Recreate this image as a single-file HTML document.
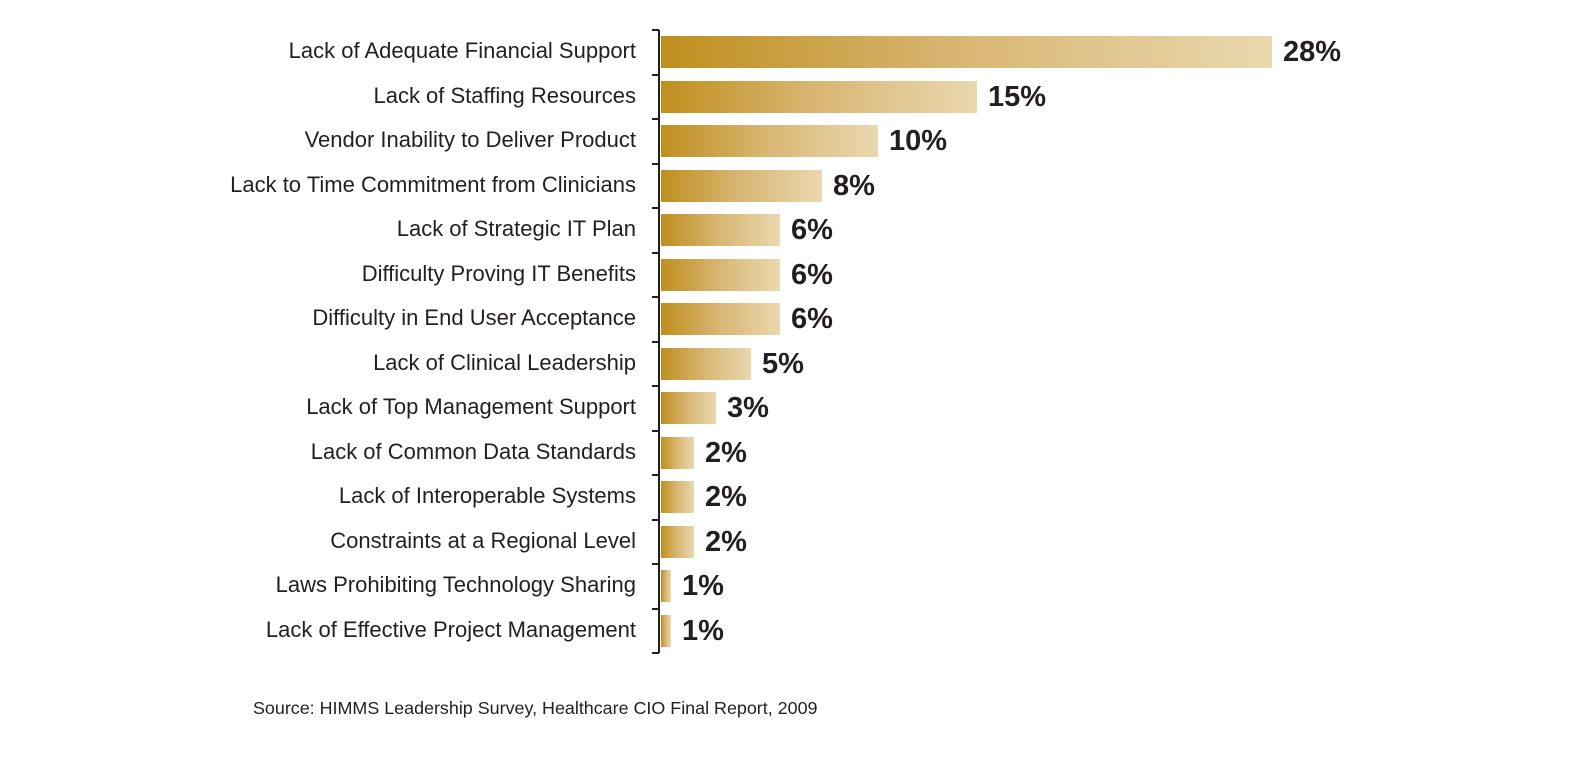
<!DOCTYPE html>
<html><head><meta charset="utf-8"><style>
body{margin:0;background:#fff;width:1592px;height:772px;overflow:hidden;font-family:"Liberation Sans",Arial,sans-serif;position:relative}
.l{position:absolute;right:956px;font-size:22px;color:#231f20;white-space:nowrap;line-height:24px}
.b{position:absolute;left:661px;height:32px;background:linear-gradient(to right,#bf8f1e,#d9b775 50%,#ead8ae)}
.v{position:absolute;font-size:29px;font-weight:bold;color:#231f20;line-height:30px}
.ax{position:absolute;left:658px;top:30px;width:2px;height:623px;background:#231f20}
.t{position:absolute;left:652px;width:7px;height:2px;background:#231f20}
</style></head><body>
<div class="ax"></div>
<div id="c"></div>
<div style="position:absolute;left:253px;top:698px;font-size:17.9px;color:#231f20">Source: HIMMS Leadership Survey, Healthcare CIO Final Report, 2009</div>
<script>
var d=[["Lack of Adequate Financial Support",1272,"28%"],["Lack of Staffing Resources",977,"15%"],["Vendor Inability to Deliver Product",878,"10%"],["Lack to Time Commitment from Clinicians",822,"8%"],["Lack of Strategic IT Plan",780,"6%"],["Difficulty Proving IT Benefits",780,"6%"],["Difficulty in End User Acceptance",780,"6%"],["Lack of Clinical Leadership",751,"5%"],["Lack of Top Management Support",716,"3%"],["Lack of Common Data Standards",694,"2%"],["Lack of Interoperable Systems",694,"2%"],["Constraints at a Regional Level",694,"2%"],["Laws Prohibiting Technology Sharing",671,"1%"],["Lack of Effective Project Management",671,"1%"]];
var h="";
for(var i=0;i<15;i++){h+='<div class="t" style="top:'+(29+i*44.5)+'px"></div>';}
d.forEach(function(r,i){var top=30+i*44.5;
h+='<div class="l" style="top:'+(top+9)+'px">'+r[0]+'</div>';
h+='<div class="b" style="top:'+(top+6)+'px;width:'+(r[1]-661)+'px"></div>';
h+='<div class="v" style="top:'+(top+7)+'px;left:'+(r[1]+11)+'px">'+r[2]+'</div>';});
document.getElementById("c").innerHTML=h;
</script>
</body></html>
